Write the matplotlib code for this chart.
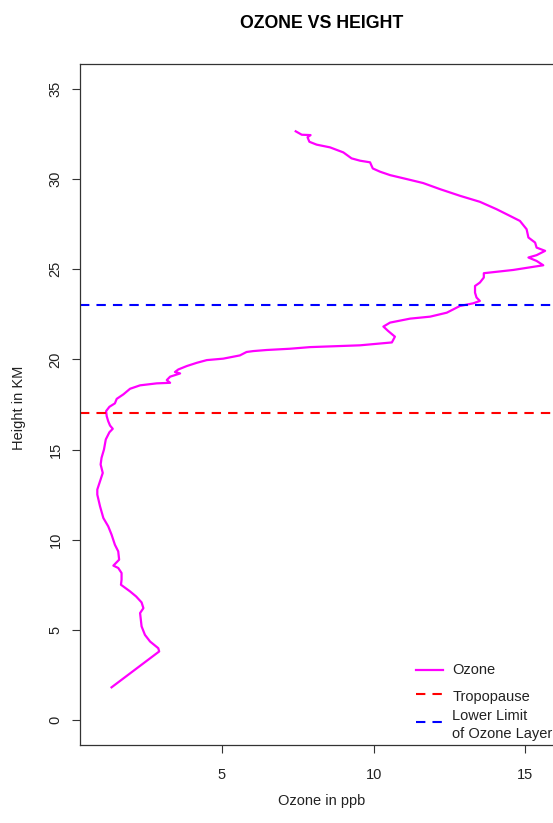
import matplotlib
matplotlib.use("Agg")
import matplotlib.pyplot as plt
from matplotlib.lines import Line2D

plt.rcParams['font.family'] = ['Liberation Sans', 'DejaVu Sans']

# Ozone profile (ppb) vs height (km)
ozone = [1.36, 2.93, 2.90, 2.63, 2.46, 2.35, 2.30, 2.41, 2.35, 2.17, 1.97, 1.67, 1.69,
         1.69, 1.58, 1.42, 1.61, 1.58, 1.47, 1.36, 1.25, 1.09, 0.98, 0.89, 0.89, 0.98,
         1.07, 1.00, 1.03, 1.11, 1.17, 1.29, 1.40, 1.31, 1.25, 1.20, 1.18, 1.29, 1.47,
         1.53, 1.75, 1.97, 2.30, 2.85, 3.29, 3.18, 3.29, 3.62, 3.45, 3.56, 3.84, 4.17,
         4.50, 5.04, 5.59, 5.81, 6.03, 6.47, 7.24, 7.90, 9.55, 10.60, 10.70, 10.48,
         10.32, 10.54, 11.20, 11.86, 12.41, 12.84, 13.28, 13.50, 13.39, 13.34, 13.34,
         13.50, 13.63, 13.63, 14.60, 15.59, 15.37, 15.10, 15.37, 15.65, 15.37, 15.32,
         15.10, 15.04, 14.82, 14.49, 14.05, 13.50, 12.85, 12.19, 11.63, 11.09, 10.54,
         10.21, 9.97, 9.88, 9.55, 9.27, 9.00, 8.56, 8.12, 7.88, 7.82, 7.92, 7.63, 7.43]
height = [1.81, 3.80, 3.98, 4.35, 4.72, 5.19, 5.93, 6.20, 6.52, 6.85, 7.13, 7.50, 7.78,
          8.15, 8.43, 8.56, 8.89, 9.35, 9.72, 10.28, 10.74, 11.20, 11.85, 12.50, 12.78,
          13.24, 13.70, 14.17, 14.54, 15.00, 15.56, 15.96, 16.15, 16.33, 16.57, 16.85,
          17.13, 17.37, 17.56, 17.81, 18.06, 18.37, 18.56, 18.67, 18.70, 18.85, 19.04,
          19.22, 19.30, 19.44, 19.63, 19.81, 19.96, 20.04, 20.22, 20.41, 20.46, 20.52,
          20.59, 20.68, 20.78, 20.94, 21.26, 21.57, 21.82, 22.04, 22.26, 22.37, 22.59,
          22.96, 23.11, 23.24, 23.43, 23.70, 24.07, 24.26, 24.54, 24.78, 24.96, 25.22,
          25.46, 25.65, 25.78, 26.02, 26.20, 26.48, 26.76, 27.22, 27.68, 27.96, 28.33,
          28.74, 29.07, 29.44, 29.78, 30.00, 30.22, 30.41, 30.59, 30.93, 31.02, 31.15,
          31.48, 31.76, 31.91, 32.07, 32.32, 32.44, 32.46, 32.65]

tropopause = 17.0
ozone_lower = 23.0

title = "OZONE VS HEIGHT"
xlabel = "Ozone in ppb"
ylabel = "Height in KM"
xticks = [5, 10, 15]
yticks = [0, 5, 10, 15, 20, 25, 30, 35]
legend_labels = ["Ozone", "Tropopause", "Lower Limit\nof Ozone Layer"]
legend_colors = ['#FF00FF', '#FF0000', '#0000FF']

W, H = 553, 823
DASH = (0, (4.5, 3.4))
fig = plt.figure(figsize=(W / 100, H / 100), dpi=100)
L, R, T, B = 80, 563, 63.7, 745.2
ax = fig.add_axes([L / W, (H - B) / H, (R - L) / W, (B - T) / H])

ax.plot(ozone, height, color=legend_colors[0], lw=1.6, solid_joinstyle='round')
ax.axhline(tropopause, color=legend_colors[1], lw=1.5, ls=DASH)
ax.axhline(ozone_lower, color=legend_colors[2], lw=1.5, ls=DASH)

ax.set_xlim(0.32, 16.24)
ax.set_ylim(-1.4, 36.4)
ax.set_xticks(xticks)
ax.set_yticks(yticks)
ax.set_xticklabels([str(v) for v in xticks])
ax.set_yticklabels([str(v) for v in yticks], rotation=90, va='center')
ax.tick_params(axis='both', direction='out', length=5.5, width=0.8, color='#333333',
               labelsize=10.5, labelcolor='#222222')
ax.tick_params(axis='x', pad=11)
ax.tick_params(axis='y', pad=7)
for s in ax.spines.values():
    s.set_color('#333333')
    s.set_linewidth(0.9)

cx = (L + R) / 2 / W
fig.text(cx, 1 - 24 / H, title, ha='center', va='center', fontsize=12.8, fontweight='bold')
fig.text(cx, 1 - 801 / H, xlabel, ha='center', va='center', fontsize=10.5, color='#222222')
fig.text(19 / W, 1 - 408 / H, ylabel, ha='center', va='center', fontsize=10.5,
         rotation=90, color='#222222')

# legend (no box), positioned like the reference
rows = [(669.5, 669.5), (694, 696.5), (722, 725)]
for (ly, ty), lab, col, ls in zip(rows, legend_labels, legend_colors, ['-', DASH, DASH]):
    fig.add_artist(Line2D([416 / W, 443 / W], [1 - ly / H, 1 - ly / H],
                          transform=fig.transFigure, color=col,
                          lw=1.6 if ls == '-' else 1.5, ls=ls))
    fig.text(452.5 / W, 1 - ty / H, lab, ha='left', va='center', fontsize=10.5,
             linespacing=1.3, color='#222222')

fig.savefig("out.png", dpi=100)
